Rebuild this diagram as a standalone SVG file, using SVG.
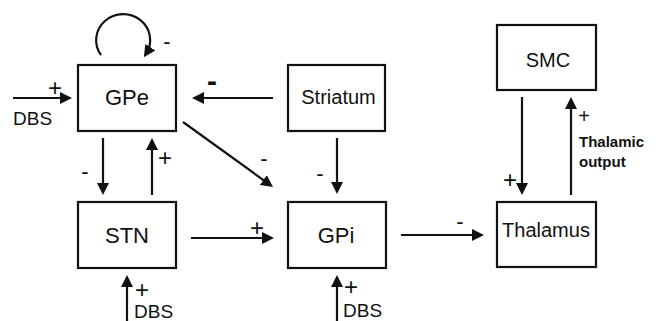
<svg xmlns="http://www.w3.org/2000/svg" width="662" height="321" viewBox="0 0 662 321">
<style>
.box{fill:#fff;stroke:#111;stroke-width:2.2}
.lbl{font-family:"Liberation Sans",Arial,sans-serif;fill:#111;text-anchor:middle}
.big{font-size:22px}
.mid{font-size:20px}
.sm{font-family:"Liberation Sans",Arial,sans-serif;fill:#111;font-size:19px}
.sg{font-family:"Liberation Sans",Arial,sans-serif;fill:#111;font-size:22px;text-anchor:middle}
.pl{font-family:"Liberation Sans",Arial,sans-serif;fill:#111;font-size:24px;text-anchor:middle}
.ln{fill:none;stroke:#111;stroke-width:2.2}
</style>
<defs>
<marker id="ah" markerUnits="userSpaceOnUse" viewBox="0 0 12 12" markerWidth="12" markerHeight="12" refX="8" refY="6" orient="auto">
<path d="M0,0 L12,6 L0,12 z" fill="#111"/>
</marker>
</defs>
<g id="GPe"><rect class="box" x="78" y="65" width="98" height="66"/><text class="lbl big" x="127" y="105">GPe</text></g>
<g id="Striatum"><rect class="box" x="288" y="65" width="97" height="66"/><text class="lbl mid" x="338.5" y="104">Striatum</text></g>
<g id="SMC"><rect class="box" x="497" y="25" width="99" height="65"/><text class="lbl mid" x="548" y="67">SMC</text></g>
<g id="STN"><rect class="box" x="78" y="202" width="98" height="66"/><text class="lbl big" x="127" y="243">STN</text></g>
<g id="GPi"><rect class="box" x="288" y="202" width="98" height="66"/><text class="lbl big" x="336" y="243">GPi</text></g>
<g id="Thalamus"><rect class="box" x="497" y="202" width="99" height="65"/><text class="lbl mid" x="546" y="237">Thalamus</text></g>
<g id="connectors">
<line class="ln" x1="13" y1="98" x2="68" y2="98" marker-end="url(#ah)"/>
<path class="ln" d="M 101 55 A 27 26 0 1 1 146 54" marker-end="url(#ah)"/>
<line class="ln" x1="273" y1="98" x2="196" y2="98" marker-end="url(#ah)"/>
<line class="ln" x1="183" y1="122" x2="269.8" y2="184.7" marker-end="url(#ah)"/>
<line class="ln" x1="337" y1="138" x2="337" y2="190" marker-end="url(#ah)"/>
<line class="ln" x1="103" y1="138" x2="103" y2="191" marker-end="url(#ah)"/>
<line class="ln" x1="152" y1="195" x2="152" y2="142" marker-end="url(#ah)"/>
<line class="ln" x1="191" y1="238" x2="270" y2="238" marker-end="url(#ah)"/>
<line class="ln" x1="127" y1="321" x2="127" y2="279" marker-end="url(#ah)"/>
<line class="ln" x1="337" y1="321" x2="337" y2="279" marker-end="url(#ah)"/>
<line class="ln" x1="401" y1="235" x2="480" y2="235" marker-end="url(#ah)"/>
<line class="ln" x1="522" y1="97" x2="522" y2="191" marker-end="url(#ah)"/>
<line class="ln" x1="571" y1="195" x2="571" y2="101" marker-end="url(#ah)"/>
</g>
<g id="labels">
<text class="pl" x="55" y="96">+</text>
<text class="sm" x="13" y="125">DBS</text>
<text class="sg" x="167" y="49">-</text>
<text class="sg" x="212" y="91" style="font-weight:bold;font-size:30px">-</text>
<text class="sg" x="264" y="166">-</text>
<text class="sg" x="320" y="181">-</text>
<text class="sg" x="85" y="179">-</text>
<text class="pl" x="165" y="166">+</text>
<text class="pl" x="257" y="236">+</text>
<text class="pl" x="142" y="298">+</text>
<text class="sm" x="134" y="318">DBS</text>
<text class="pl" x="351" y="295">+</text>
<text class="sm" x="343" y="317">DBS</text>
<text class="sg" x="460" y="229">-</text>
<text class="pl" x="510" y="188">+</text>
<text class="sg" x="584" y="123" style="font-size:20px">+</text>
<text class="sm" x="579" y="147" style="font-size:15px;font-weight:bold">Thalamic</text>
<text class="sm" x="579" y="167" style="font-size:15px;font-weight:bold">output</text>
</g>
</svg>
